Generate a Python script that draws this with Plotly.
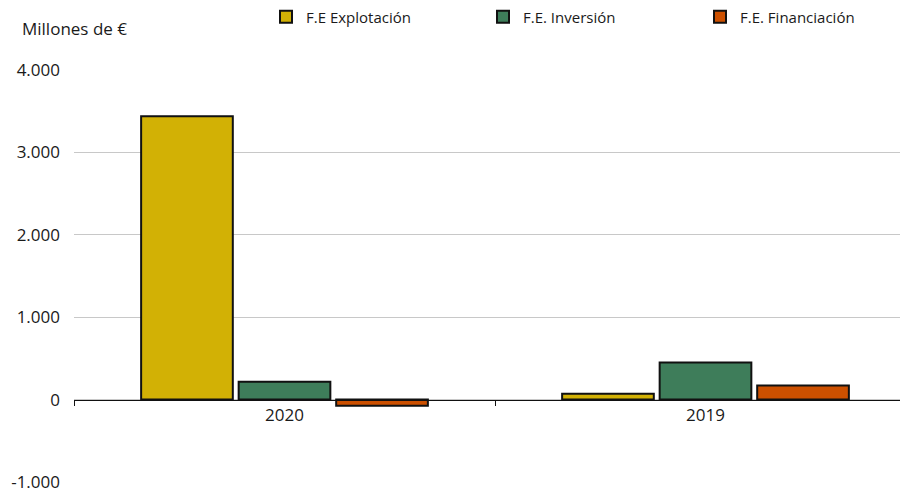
import plotly.graph_objects as go

# datos (millones de euros)
years = ["2020", "2019"]
explotacion = [3440, 70]
inversion = [218, 450]
financiacion = [-75, 170]

series_names = ["F.E Explotación", "F.E. Inversión", "F.E. Financiación"]
series_colors = ["#D2B105", "#3E7D5A", "#CC5000"]

y_ticks = [-1000, 0, 1000, 2000, 3000, 4000]
y_ticktext = ["-1.000", "0", "1.000", "2.000", "3.000", "4.000"]

# la página tiene 8px de margen en el body, se compensa aquí
W, H = 908, 486
ML, MR, MT, MB = 66, 0, 62, 12
PW, PH = W - ML - MR, H - MT - MB

fig = go.Figure()
for name, vals, col in zip(series_names, [explotacion, inversion, financiacion], series_colors):
    fig.add_trace(go.Bar(x=years, y=vals, name=name,
                         marker=dict(color=col, line=dict(color="#111111", width=2))))

fig.update_layout(
    width=W, height=H,
    margin=dict(l=ML, r=MR, t=MT, b=MB, autoexpand=False),
    paper_bgcolor="white", plot_bgcolor="white",
    font=dict(family="Open Sans", size=17, color="#1a1a1a"),
    barmode="group", bargap=0.305, bargroupgap=0.06,
    showlegend=True,
    legend=dict(orientation="h", x=(258 - ML) / PW, xanchor="left",
                y=1 + (MT - 9) / PH, yanchor="middle",
                font=dict(size=15), entrywidth=172, itemwidth=30,
                traceorder="normal"),
)
fig.add_annotation(text="Millones de €", xref="paper", yref="paper",
                   x=(12 - ML) / PW, y=1 + (MT - 20) / PH,
                   xanchor="left", yanchor="middle", showarrow=False,
                   font=dict(size=17))

fig.update_yaxes(range=[-1000, 4000], tickvals=y_ticks, ticktext=y_ticktext,
                 showgrid=True, gridcolor="#C8C8C8", gridwidth=1,
                 zeroline=False, showline=False, ticks="", ticklabelstandoff=13)
fig.update_xaxes(anchor="free", position=0.2, showline=True, linecolor="#111111",
                 linewidth=1.2, ticks="outside", tickson="boundaries", ticklen=5,
                 tickcolor="#111111", showgrid=False)

fig.write_html("out.html")
